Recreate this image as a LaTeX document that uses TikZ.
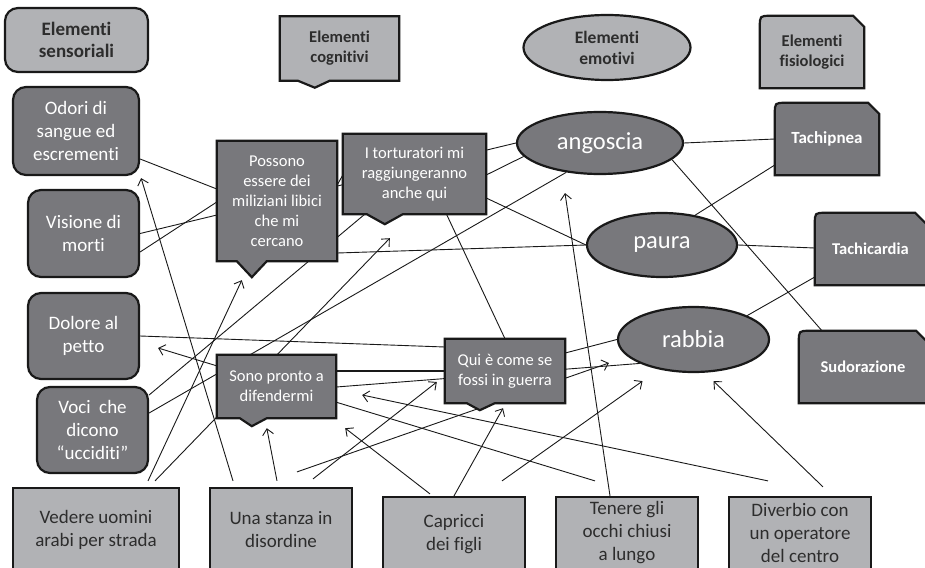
\documentclass[tikz,border=0pt]{standalone}
\usepackage{fontspec}
\setmainfont{Carlito}[Ligatures=NoCommon]
\usetikzlibrary{calc,arrows.meta,shapes.geometric}

\definecolor{darkfill}{RGB}{120,120,124}
\definecolor{lightfill}{RGB}{177,178,181}
\definecolor{ink}{RGB}{25,25,25}
\definecolor{labelgray}{RGB}{45,45,45}

\pgfdeclarelayer{paper}
\pgfdeclarelayer{links}
\pgfdeclarelayer{boxes}
\pgfsetlayers{paper,links,boxes,main}

\tikzset{
  outline/.style={draw=ink, line width=2.2pt},
  sense/.style={outline, fill=darkfill, rounded corners=13pt, text=white,
    font=\fontsize{19}{23}\selectfont, align=center, inner sep=0pt},
  emotion/.style={ellipse, outline, fill=darkfill, text=white,
    font=\fontsize{24.5}{28}\selectfont, inner sep=0pt},
  thought/.style={text=white, font=\fontsize{16.5}{20}\selectfont,
    align=center, inner sep=0pt},
  body/.style={text=white, font=\bfseries\fontsize{16.5}{19}\selectfont,
    align=center, inner sep=0pt},
  trigger/.style={outline, fill=lightfill, text=labelgray,
    font=\fontsize{19}{23}\selectfont, align=center, inner sep=0pt},
  legend/.style={text=labelgray, font=\bfseries\fontsize{17}{21}\selectfont,
    align=center, inner sep=0pt},
  link/.style={draw=ink, line width=0.9pt},
  cause/.style={link, -{Straight Barb[length=6pt,width=11pt]}},
}

% speech-bubble outline behind a node: base start, tip x, tip depth, base end
\newcommand\bubbleshape[6]{%
  \begin{pgfonlayer}{boxes}
    \draw[outline, fill=#2] (#1.north west) -- (#1.north east) -- (#1.south east)
      -- ($(#1.south west)+(#6,0)$) -- ($(#1.south west)+(#4,#5)$)
      -- ($(#1.south west)+(#3,0)$) -- (#1.south west) -- cycle;
  \end{pgfonlayer}}

% box with a rounded top-left corner and a cut top-right corner
\newcommand\clipcorner[2]{%
  \begin{pgfonlayer}{boxes}
    \draw[outline, fill=#2] (#1.south west) -- ($(#1.north west)+(0,11)$)
      .. controls (#1.north west) .. ($(#1.north west)+(11,0)$)
      -- ($(#1.north east)+(-11,0)$) -- ($(#1.north east)+(0,11)$)
      -- (#1.south east) -- cycle;
  \end{pgfonlayer}}

\begin{document}
\begin{tikzpicture}[x=1pt,y=-1pt]
\useasboundingbox (0,0) rectangle (925,567);
\begin{pgfonlayer}{paper}
  \fill[white] (0,0) rectangle (925,567);
\end{pgfonlayer}

% ---- legend row
\node[legend, font=\bfseries\fontsize{19}{21.5}\selectfont, outline, fill=lightfill,
  rounded corners=13pt, minimum width=143pt, minimum height=64pt] (lsens) at (76.5,40)
  {Elementi\\sensoriali};
\node[legend, font=\bfseries\fontsize{16.5}{20}\selectfont,
  minimum width=119pt, minimum height=64pt] (lcog) at (339.5,48.5) {Elementi\\cognitivi};
\bubbleshape{lcog}{lightfill}{18}{35}{7}{50}
\node[legend, font=\bfseries\fontsize{17.5}{21}\selectfont, ellipse, outline, fill=lightfill,
  minimum width=167pt, minimum height=65pt] (lemo) at (607,47.5) {Elementi\\emotivi};
\node[legend, font=\bfseries\fontsize{16.5}{20}\selectfont,
  minimum width=104pt, minimum height=72pt] (lfis) at (812,52) {Elementi\\fisiologici};
\clipcorner{lfis}{lightfill}

% ---- sensory elements
\node[sense, minimum width=126pt, minimum height=88pt] (odori) at (76,131)
  {Odori di\\sangue ed\\escrementi};
\node[sense, minimum width=111pt, minimum height=87pt] (visione) at (83.5,233.5)
  {Visione di\\morti};
\node[sense, minimum width=111pt, minimum height=86pt] (dolore) at (83.5,336)
  {Dolore al\\petto};
\node[sense, minimum width=111pt, minimum height=86pt] (voci) at (92.5,430)
  {Voci~ che\\dicono\\“ucciditi”};

% ---- cognitive elements
\node[thought, minimum width=120pt, minimum height=120pt] (poss) at (277,201)
  {Possono\\essere dei\\miliziani libici\\che mi\\cercano};
\bubbleshape{poss}{darkfill}{20}{35}{16}{50}
\node[thought, minimum width=143pt, minimum height=80pt] (tort) at (414.5,174)
  {I torturatori mi\\raggiungeranno\\anche qui};
\bubbleshape{tort}{darkfill}{24}{42}{10}{60}
\node[thought, minimum width=119pt, minimum height=63pt] (sono) at (276.5,386.5)
  {Sono pronto a\\difendermi};
\bubbleshape{sono}{darkfill}{23}{35}{8}{50}
\node[thought, minimum width=120pt, minimum height=64pt] (qui) at (505,371)
  {Qui è come se\\fossi in guerra};
\bubbleshape{qui}{darkfill}{22}{35}{7}{50}

% ---- emotional elements
\node[emotion, minimum width=166pt, minimum height=62pt] (ang) at (600,143) {angoscia};
\node[emotion, minimum width=150pt, minimum height=64pt] (paura) at (662,245) {paura};
\node[emotion, minimum width=151pt, minimum height=65pt] (rabbia) at (693.5,339.5) {rabbia};

% ---- physiological elements
\node[body, font=\bfseries\fontsize{17}{19}\selectfont,
  minimum width=104pt, minimum height=72pt] (tachip) at (827,139) {Tachipnea};
\clipcorner{tachip}{darkfill}
\node[body, minimum width=111pt, minimum height=72pt] (tachic) at (870.5,249) {Tachicardia};
\clipcorner{tachic}{darkfill}
\node[body, minimum width=128pt, minimum height=72pt] (sudor) at (863,367) {Sudorazione};
\clipcorner{sudor}{darkfill}

% ---- triggering situations
\node[trigger, minimum width=166pt, minimum height=84pt] (vedere) at (96,530)
  {Vedere uomini\\arabi per strada};
\node[trigger, minimum width=142pt, minimum height=84pt] (stanza) at (281,530)
  {Una stanza in\\disordine};
\node[trigger, minimum width=142pt, minimum height=74pt] (capricci) at (454,534)
  {Capricci\\dei figli};
\node[trigger, minimum width=142pt, minimum height=72pt] (tenere) at (627,533)
  {Tenere gli\\occhi chiusi\\a lungo};
\node[trigger, minimum width=142pt, minimum height=72pt] (diverbio) at (800,533)
  {Diverbio con\\un operatore\\del centro};

% ---- connections
\begin{pgfonlayer}{links}
  \draw[link] ($(odori.east)+(0,28)$) -- ($(poss.west)+(0,-12)$);
  \draw[link] (visione.east) -- (ang.west);
  \draw[link] ($(visione.east)+(0,18.5)$) -- ($(poss.west)+(0,1)$);
  \draw[link] ($(poss.east)+(0,-16)$) -- ($(tort.west)+(0,1)$);
  \draw[link] ($(tort.east)+(0,1)$) -- (ang.190);
  \draw[link] ($(tort.east)+(0,24)$) -- (paura.west);
  \draw[link] ($(voci.east)+(0,-17)$) -- (ang.221);
  \draw[link] ($(voci.east)+(0,-35)$) -- ($(tort.south west)+(22,0)$);
  \draw[link] (dolore.east) -- ($(qui.west)+(0,-24)$);
  \draw[link, line width=2pt] ($(sono.east)+(0,-15.5)$) -- (qui.west);
  \draw[link] ($(tort.south)+(32,0)$) -- (qui.north);
  \draw[link] ($(poss.east)+(0,52)$) -- (paura.west);
  \draw[link] ($(qui.east)+(0,-18)$) -- (rabbia.west);
  \draw[link] ($(sono.east)+(0,0.5)$) -- (rabbia.204);
  \draw[link] (ang.east) -- (tachip.west);
  \draw[link] (ang.-13) -- ($(sudor.north)+(-41,0)$);
  \draw[link] (paura.42) -- ($(tachip.west)+(0,26)$);
  \draw[link] (paura.east) -- ($(tachic.west)+(0,-1)$);
  \draw[link] (rabbia.24) -- ($(tachic.west)+(0,28)$);

  \draw[cause] ($(vedere.north)+(52,-6)$) -- ($(poss.south west)+(25,19)$);
  \draw[cause] ($(vedere.north)+(59,-6)$) -- ($(tort.south west)+(47,24)$);
  \draw[cause] ($(stanza.north)+(-48,-6)$) -- ($(odori.south east)+(1,2)$);
  \draw[cause] ($(stanza.north)+(-4,-6)$) -- ($(sono.south west)+(50,10)$);
  \draw[cause] ($(stanza.north)+(32,-8)$) -- ($(qui.west)+(-8,11)$);
  \draw[cause] ($(stanza.north)+(16,-15)$) -- ($(rabbia.west)+(-8,23.5)$);
  \draw[cause] ($(capricci.north)+(-24,-2)$) -- ($(sono.south east)+(9,10)$);
  \draw[cause] (capricci.north) -- ($(qui.south)+(-2,5)$);
  \draw[cause] ($(capricci.north)+(48,-15)$) -- ($(rabbia.south)+(-51,8)$);
  \draw[cause] ($(tenere.north)+(-32,-15)$) -- ($(dolore.east)+(18,12)$);
  \draw[cause] ($(tenere.north)+(-17,0)$) -- ($(ang.south)+(-35,18)$);
  \draw[cause] ($(diverbio.north)+(-32,-15)$) -- ($(sono.east)+(26,8.5)$);
  \draw[cause] ($(diverbio.north)+(23,-9)$) -- ($(rabbia.south)+(20,8)$);
\end{pgfonlayer}
\end{tikzpicture}
\end{document}
